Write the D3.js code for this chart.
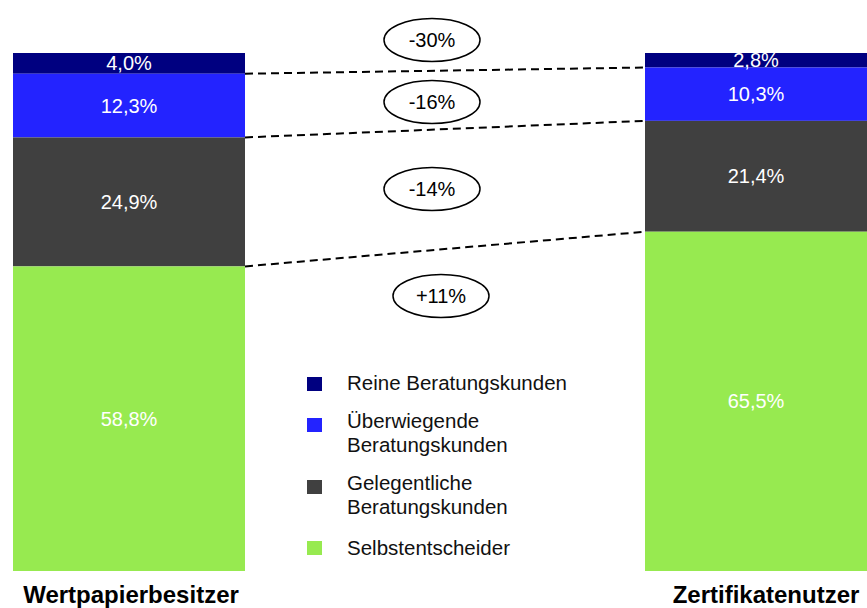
<!DOCTYPE html>
<html><head><meta charset="utf-8">
<script src="https://cdn.jsdelivr.net/npm/d3@7"></script>
<style>body{margin:0;background:#fff}svg{display:block;font-family:"Liberation Sans",Arial,sans-serif}</style>
</head><body><svg id="c" width="867" height="608"></svg>
<script>
const categories = ["Wertpapierbesitzer", "Zertifikatenutzer"];
const segments = ["Reine Beratungskunden", "Überwiegende Beratungskunden", "Gelegentliche Beratungskunden", "Selbstentscheider"];
const legendLines = [["Reine Beratungskunden"], ["Überwiegende", "Beratungskunden"], ["Gelegentliche", "Beratungskunden"], ["Selbstentscheider"]];
const wertpapier = [4.0, 12.3, 24.9, 58.8];
const zertifikat = [2.8, 10.3, 21.4, 65.5];
const changes = ["-30%", "-16%", "-14%", "+11%"];
const colors = ["#000080", "#2323FF", "#404040", "#97EA50"];

const svg = d3.select("#c");
const y = d3.scaleLinear().domain([0, 100]).range([53, 571]);
const x = d3.scaleOrdinal().domain(categories).range([13, 645]);
const barW = {"Wertpapierbesitzer": 232, "Zertifikatenutzer": 222};
const fmt = v => d3.format(".1f")(v).replace(".", ",") + "%";

const series = [wertpapier, zertifikat];
const stacks = series.map(vals => {
  let acc = 0;
  return vals.map((v, i) => { const s = {i, v, y0: acc, y1: acc + v}; acc += v; return s; });
});

categories.forEach((cat, ci) => {
  const g = svg.append("g");
  g.selectAll("rect").data(stacks[ci]).join("rect")
    .attr("x", x(cat)).attr("width", barW[cat])
    .attr("y", d => y(d.y0)).attr("height", d => y(d.y1) - y(d.y0))
    .attr("fill", d => colors[d.i]);
  g.selectAll("text").data(stacks[ci]).join("text")
    .attr("x", x(cat) + barW[cat] / 2)
    .attr("y", d => (y(d.y0) + y(d.y1)) / 2 + 7)
    .attr("text-anchor", "middle").attr("fill", "#fff").attr("font-size", 20)
    .text(d => fmt(d.v));
});

svg.append("text").attr("x", 131).attr("y", 603).attr("text-anchor", "middle")
  .attr("font-weight", "bold").attr("font-size", 24).text(categories[0]);
svg.append("text").attr("x", 766).attr("y", 603).attr("text-anchor", "middle")
  .attr("font-weight", "bold").attr("font-size", 24).text(categories[1]);

// dashed connectors
const lx = x(categories[0]) + barW[categories[0]], rx = x(categories[1]);
[0, 1, 2].forEach(k => {
  svg.append("line").attr("x1", lx).attr("x2", rx)
    .attr("y1", y(stacks[0][k].y1)).attr("y2", y(stacks[1][k].y1))
    .attr("stroke", "#000").attr("stroke-width", 2).attr("stroke-dasharray", "8,5");
});

// change ellipses
const ellPos = [[432, 40], [432, 102], [432, 189], [441, 296]];
changes.forEach((c, i) => {
  const [cx, cy] = ellPos[i];
  svg.append("ellipse").attr("cx", cx).attr("cy", cy).attr("rx", 48).attr("ry", 21.5)
    .attr("fill", "#fff").attr("stroke", "#000").attr("stroke-width", 1.5);
  svg.append("text").attr("x", cx).attr("y", cy + 7).attr("text-anchor", "middle")
    .attr("font-size", 20).text(c);
});

// legend
const legSq = [377, 418, 480, 541];
const legBase = [390, 428, 490, 555];
legendLines.forEach((lines, i) => {
  svg.append("rect").attr("x", 307).attr("y", legSq[i]).attr("width", 15).attr("height", 14).attr("fill", colors[i]);
  const t = svg.append("text").attr("x", 347).attr("y", legBase[i]).attr("font-size", 20.5).attr("fill", "#111");
  lines.forEach((l, j) => t.append("tspan").attr("x", 347).attr("dy", j ? 24 : 0).text(l));
});
</script></body></html>
